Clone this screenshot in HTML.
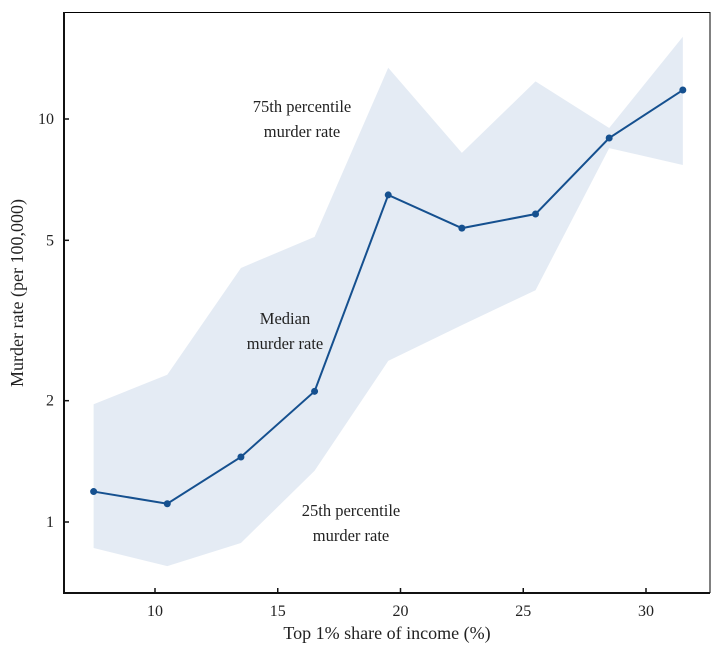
<!DOCTYPE html>
<html><head><meta charset="utf-8"><style>
body{margin:0;background:#fff}
svg text{font-family:"Liberation Serif",serif;fill:#222}
</style></head><body>
<svg id="chart" width="722" height="650" viewBox="0 0 722 650" xmlns="http://www.w3.org/2000/svg">
<g id="band-layer"></g>
<g id="line-layer"></g>
<rect x="64.5" y="12.5" width="645.5" height="580" fill="none" stroke="#000" stroke-width="1"/>
<line x1="64" y1="12" x2="64" y2="593" stroke="#111" stroke-width="2"/>
<line x1="63" y1="593" x2="710" y2="593" stroke="#111" stroke-width="2"/>
<g id="axis-layer"></g>
<text x="302" y="112" font-size="16.5" text-anchor="middle">75th percentile</text>
<text x="302" y="137" font-size="16.5" text-anchor="middle">murder rate</text>
<text x="285" y="324" font-size="16.5" text-anchor="middle">Median</text>
<text x="285" y="349" font-size="16.5" text-anchor="middle">murder rate</text>
<text x="351" y="516" font-size="16.5" text-anchor="middle">25th percentile</text>
<text x="351" y="541" font-size="16.5" text-anchor="middle">murder rate</text>
<text x="387" y="639" font-size="18" text-anchor="middle">Top 1% share of income (%)</text>
<text transform="translate(23,293) rotate(-90)" font-size="18" text-anchor="middle">Murder rate (per 100,000)</text>
</svg>
<script>
const xValues=[7.5,10.5,13.5,16.5,19.5,22.5,25.5,28.5,31.5];
const medianValues=[1.19,1.11,1.45,2.11,6.48,5.36,5.81,8.97,11.8];
const upperValues=[1.96,2.32,4.27,5.10,13.4,8.24,12.4,9.5,16.0];
const lowerValues=[0.862,0.777,0.887,1.34,2.51,3.08,3.76,8.47,7.69];
const xTicks=[10,15,20,25,30];
const yTicks=[1,2,5,10];
const NS="http://www.w3.org/2000/svg";
function xs(v){return 155+(v-10)*24.55;}
function ys(v){return 522-Math.log10(v)*403;}
function mk(t,a,p){const e=document.createElementNS(NS,t);for(const k in a)e.setAttribute(k,a[k]);p.appendChild(e);return e;}
const band=document.getElementById('band-layer'),line=document.getElementById('line-layer'),ax=document.getElementById('axis-layer');
let pts=xValues.map((x,i)=>xs(x)+','+ys(upperValues[i]));
for(let i=xValues.length-1;i>=0;i--)pts.push(xs(xValues[i])+','+ys(lowerValues[i]));
const poly=mk('polygon',{points:pts.join(' '),fill:'#e4ebf4'},band);


const pl=mk('polyline',{points:xValues.map((x,i)=>xs(x)+','+ys(medianValues[i])).join(' '),fill:'none',stroke:'#15508f','stroke-width':2},line);


xValues.forEach((x,i)=>{const c=mk('circle',{cx:xs(x),cy:ys(medianValues[i]),r:3.5,fill:'#15508f'},line);

});
xTicks.forEach(t=>{const l=mk('line',{x1:xs(t),x2:xs(t),y1:592,y2:588,stroke:'#111','stroke-width':1.5},ax);


const tx=mk('text',{x:xs(t),y:616,'font-size':16,'text-anchor':'middle'},ax);tx.textContent=t;

});
yTicks.forEach(t=>{const l=mk('line',{x1:65,x2:69,y1:ys(t),y2:ys(t),stroke:'#111','stroke-width':1.5},ax);


const tx=mk('text',{x:54,y:ys(t)+5,'font-size':16,'text-anchor':'end'},ax);tx.textContent=t;

});
</script>
</body></html>
